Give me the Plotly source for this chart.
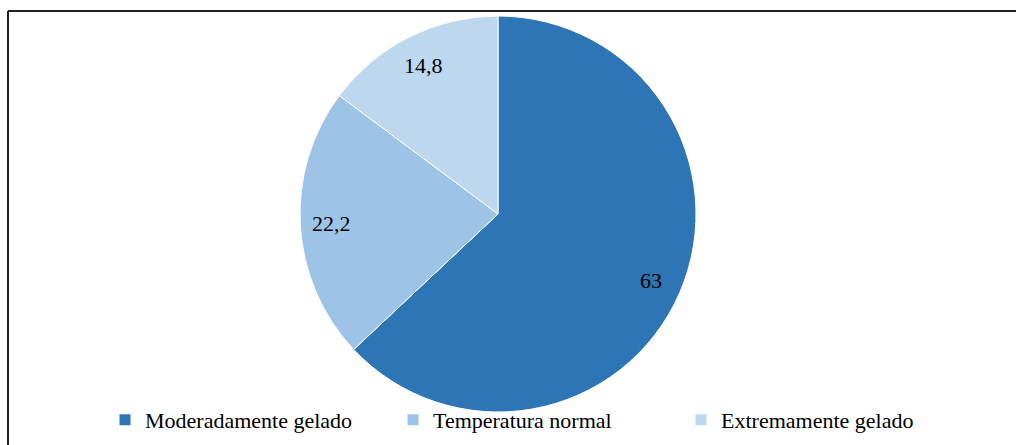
import math
import plotly.graph_objects as go

# Distribution of responses by perceived temperature (%)
categories = ["Moderadamente gelado", "Temperatura normal", "Extremamente gelado"]
values = [63, 22.2, 14.8]
colors = ["#2E75B6", "#9DC3E6", "#BDD7EE"]

W, H = 1016, 445
cx, cy, r = 498, 214, 198
label_frac = 0.84  # radial position of the value labels (fraction of radius)
serif = "Liberation Serif"

# Labels use a comma as the decimal separator
labels_txt = [f"{v:g}".replace(".", ",") for v in values]

fig = go.Figure(
    go.Pie(
        labels=categories,
        values=values,
        textinfo="none",
        marker=dict(colors=colors, line=dict(color="white", width=1)),
        sort=False,
        direction="clockwise",
        rotation=0,
        hoverinfo="label+value",
        domain=dict(
            x=[(cx - r) / W, (cx + r) / W],
            y=[1 - (cy + r) / H, 1 - (cy - r) / H],
        ),
    )
)

# Value labels near the outer edge of each slice, at the slice's mid-angle
total = sum(values)
annotations = []
cum = 0.0
for v, t in zip(values, labels_txt):
    mid = (cum + v / 2) / total * 2 * math.pi  # clockwise from 12 o'clock
    cum += v
    px = cx + label_frac * r * math.sin(mid)
    py = cy - label_frac * r * math.cos(mid)
    annotations.append(
        dict(
            x=px / W,
            y=1 - py / H,
            xref="paper",
            yref="paper",
            text=t,
            showarrow=False,
            xanchor="center",
            yanchor="middle",
            font=dict(family=serif, size=22, color="black"),
        )
    )

fig.update_layout(
    width=W,
    height=H,
    margin=dict(l=0, r=0, t=0, b=0),
    paper_bgcolor="white",
    plot_bgcolor="white",
    font=dict(family=serif, size=22, color="black"),
    showlegend=True,
    legend=dict(
        orientation="h",
        x=105 / W,
        xanchor="left",
        y=1 - 420 / H,
        yanchor="middle",
        font=dict(family=serif, size=22, color="black"),
        itemwidth=30,
        entrywidth=243,
        entrywidthmode="pixels",
        bgcolor="rgba(0,0,0,0)",
    ),
    annotations=annotations,
    shapes=[
        # chart frame: top and left edges
        dict(type="line", xref="paper", yref="paper",
             x0=8 / W, x1=1, y0=1 - 11 / H, y1=1 - 11 / H,
             line=dict(color="#222222", width=2)),
        dict(type="line", xref="paper", yref="paper",
             x0=8 / W, x1=8 / W, y0=0, y1=1 - 11 / H,
             line=dict(color="#222222", width=2)),
    ],
)

fig.write_html("out.html")
